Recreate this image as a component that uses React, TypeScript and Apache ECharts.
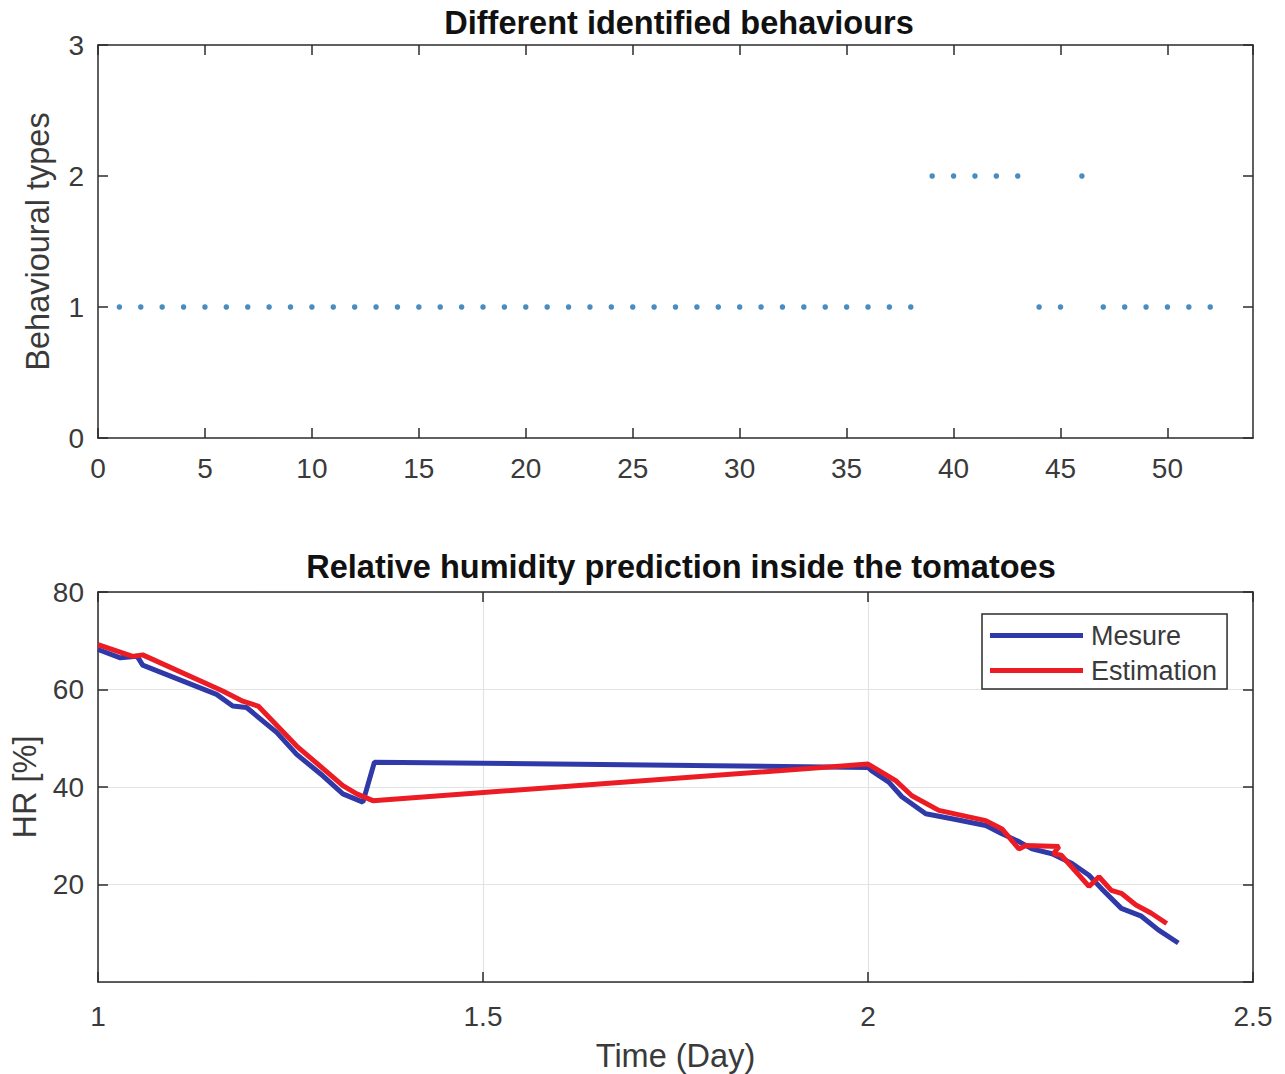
import React, { useEffect, useRef } from "react";
import * as echarts from "echarts";

const behaviourDays = [
  1, 2, 3, 4, 5, 6, 7, 8, 9, 10, 11, 12, 13, 14, 15, 16, 17, 18, 19, 20, 21, 22, 23, 24, 25, 26,
  27, 28, 29, 30, 31, 32, 33, 34, 35, 36, 37, 38, 39, 40, 41, 42, 43, 44, 45, 46, 47, 48, 49, 50,
  51, 52,
];
const behaviourTypes = [
  1, 1, 1, 1, 1, 1, 1, 1, 1, 1, 1, 1, 1, 1, 1, 1, 1, 1, 1, 1, 1, 1, 1, 1, 1, 1,
  1, 1, 1, 1, 1, 1, 1, 1, 1, 1, 1, 1, 2, 2, 2, 2, 2, 1, 1, 2, 1, 1, 1, 1,
  1, 1,
];

const mesureTime = [
  1.0, 1.029, 1.051, 1.058, 1.154, 1.175, 1.193, 1.232, 1.258, 1.292, 1.318, 1.344, 1.359,
  2.0, 2.005, 2.027, 2.044, 2.075, 2.109, 2.153, 2.174, 2.196, 2.213, 2.239, 2.265, 2.287,
  2.303, 2.329, 2.355, 2.377, 2.403,
];
const mesureHR = [
  68.2, 66.5, 66.8, 65.0, 59.0, 56.6, 56.3, 51.2, 46.7, 42.3, 38.6, 36.9, 45.1,
  44.0, 43.3, 41.0, 38.0, 34.5, 33.5, 32.1, 30.4, 28.8, 27.3, 26.3, 24.3, 21.9,
  19.2, 15.1, 13.5, 10.7, 8.0,
];

const estimTime = [
  1.0, 1.045, 1.058, 1.162, 1.188, 1.208, 1.258, 1.318, 1.336, 1.357,
  2.0, 2.036, 2.057, 2.092, 2.153, 2.174, 2.196, 2.205, 2.248, 2.241, 2.251, 2.287,
  2.3, 2.316, 2.329, 2.348, 2.368, 2.388,
];
const estimHR = [
  69.2, 66.8, 67.1, 59.7, 57.6, 56.6, 48.4, 40.3, 38.6, 37.2,
  44.7, 41.3, 38.2, 35.2, 33.1, 31.4, 27.3, 28.0, 27.8, 26.3, 26.0, 19.6,
  21.6, 18.8, 18.2, 15.8, 14.1, 12.0,
];

const topXTicks = { min: 0, max: 54, interval: 5 };
const topYTicks = { min: 0, max: 3, interval: 1 };
const botXTicks = { min: 1, max: 2.5, interval: 0.5 };
const botYTicks = { min: 0, max: 80, interval: 20 };

const FONT = "Liberation Sans, Arial, sans-serif";
const AX = "#2b2b2b";
const LBL = "#3a3a3a";

export default function App() {
  const ref = useRef<HTMLDivElement>(null);
  useEffect(() => {
    if (!ref.current) return;
    const chart = echarts.init(ref.current, null, { renderer: "svg" });
    const tickLabel = { color: LBL, fontSize: 28, fontFamily: FONT };
    const line = { show: true, onZero: false, lineStyle: { color: AX, width: 1.5 } };
    const tick = { show: true, inside: true, length: 10, lineStyle: { color: AX, width: 1.5 } };
    const mirrorX = (gridIndex: number, t: any) => ({
      type: "value", gridIndex, position: "top", ...t,
      axisLine: line, axisTick: tick, axisLabel: { show: false }, splitLine: { show: false },
    });
    const mirrorY = (gridIndex: number, t: any) => ({
      type: "value", gridIndex, position: "right", ...t,
      axisLine: line, axisTick: tick, axisLabel: { show: false }, splitLine: { show: false },
    });
    const option: any = {
      animation: false,
      backgroundColor: "#ffffff",
      textStyle: { fontFamily: FONT },
      title: [
        {
          text: "Different identified behaviours",
          left: 674, top: 1, textAlign: "center",
          textStyle: { fontSize: 32.5, fontWeight: "bold", color: "#111", fontFamily: FONT },
        },
        {
          text: "Relative humidity prediction inside the tomatoes",
          left: 676, top: 545, textAlign: "center",
          textStyle: { fontSize: 32.5, fontWeight: "bold", color: "#111", fontFamily: FONT },
        },
      ],
      grid: [
        { left: 98, top: 45, width: 1155, height: 393, show: true, borderWidth: 0, backgroundColor: "#fff" },
        { left: 98, top: 592, width: 1155, height: 390, show: true, borderWidth: 0, backgroundColor: "#fff" },
      ],
      legend: {
        data: ["Mesure", "Estimation"],
        orient: "vertical",
        left: 982, top: 614,
        itemWidth: 93, itemHeight: 5,
        itemGap: 8,
        padding: [8, 10, 5, 8],
        icon: "rect",
        borderColor: AX, borderWidth: 1.5,
        backgroundColor: "#fff",
        textStyle: { fontSize: 27, color: LBL, fontFamily: FONT, padding: [0, 0, 0, 3] },
      },
      xAxis: [
        {
          type: "value", gridIndex: 0, ...topXTicks, position: "bottom",
          axisLine: line, axisTick: tick,
          axisLabel: { ...tickLabel, margin: 16, showMaxLabel: false },
          splitLine: { show: false },
        },
        mirrorX(0, topXTicks),
        {
          type: "value", gridIndex: 1, ...botXTicks, position: "bottom",
          name: "Time (Day)", nameLocation: "middle", nameGap: 57,
          nameTextStyle: { fontSize: 32.5, color: LBL, fontFamily: FONT },
          axisLine: line, axisTick: tick,
          axisLabel: { ...tickLabel, margin: 20 },
          splitLine: { show: true, lineStyle: { color: "#e3e3e3", width: 1.2 } },
        },
        mirrorX(1, botXTicks),
      ],
      yAxis: [
        {
          type: "value", gridIndex: 0, ...topYTicks, position: "left",
          name: "Behavioural types", nameLocation: "middle", nameGap: 44,
          nameTextStyle: { fontSize: 32.5, color: LBL, fontFamily: FONT },
          axisLine: line, axisTick: tick,
          axisLabel: { ...tickLabel, margin: 14 },
          splitLine: { show: false },
        },
        mirrorY(0, topYTicks),
        {
          type: "value", gridIndex: 1, ...botYTicks, position: "left",
          name: "HR [%]", nameLocation: "middle", nameGap: 55,
          nameTextStyle: { fontSize: 32.5, color: LBL, fontFamily: FONT },
          axisLine: line, axisTick: tick,
          axisLabel: { ...tickLabel, margin: 14, showMinLabel: false },
          splitLine: { show: true, lineStyle: { color: "#e3e3e3", width: 1.2 } },
        },
        mirrorY(1, botYTicks),
      ],
      series: [
        {
          type: "scatter", name: "Behaviour", xAxisIndex: 0, yAxisIndex: 0,
          symbol: "circle", symbolSize: 5.5,
          itemStyle: { color: "#1a6fb0" },
          data: behaviourDays.map((d, i) => [d, behaviourTypes[i]]),
        },
        {
          type: "line", name: "Mesure", xAxisIndex: 2, yAxisIndex: 2,
          showSymbol: false, symbol: "none",
          lineStyle: { color: "#2f3aa8", width: 5 },
          itemStyle: { color: "#2f3aa8" },
          data: mesureTime.map((t, i) => [t, mesureHR[i]]),
        },
        {
          type: "line", name: "Estimation", xAxisIndex: 2, yAxisIndex: 2,
          showSymbol: false, symbol: "none",
          lineStyle: { color: "#ec1c24", width: 5 },
          itemStyle: { color: "#ec1c24" },
          data: estimTime.map((t, i) => [t, estimHR[i]]),
        },
      ],
    };
    chart.setOption(option);
    return () => chart.dispose();
  }, []);
  return (
    <div
      ref={ref}
      style={{ position: "absolute", left: 0, top: 0, width: 1285, height: 1074, background: "#fff" }}
    />
  );
}
